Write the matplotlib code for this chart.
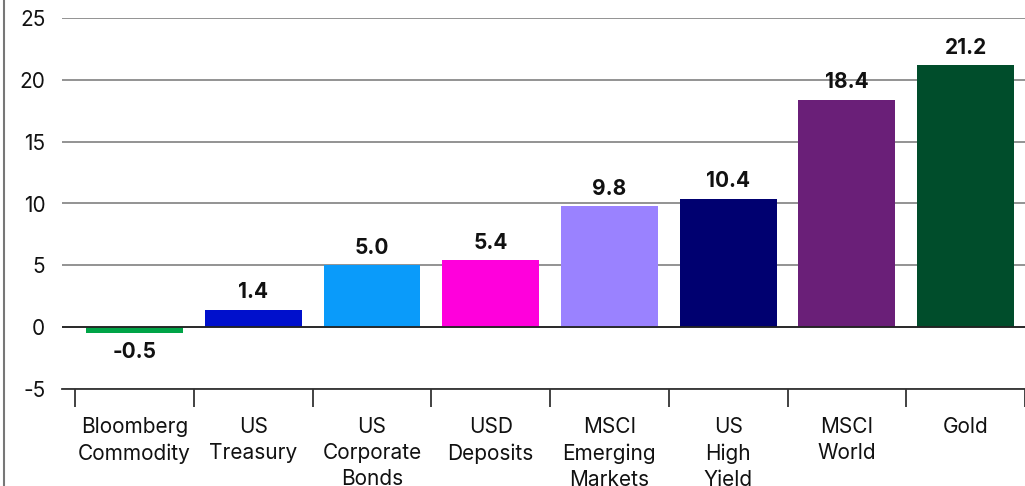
import numpy as np
import matplotlib.pyplot as plt
from matplotlib.lines import Line2D

plt.rcParams['font.family'] = ['Inter', 'DejaVu Sans']
plt.rcParams['axes.unicode_minus'] = False

categories = ['Bloomberg\nCommodity', 'US\nTreasury', 'US\nCorporate\nBonds', 'USD\nDeposits',
              'MSCI\nEmerging\nMarkets', 'US\nHigh\nYield', 'MSCI\nWorld', 'Gold']
values = [-0.5, 1.4, 5.0, 5.4, 9.8, 10.4, 18.4, 21.2]
colors = ['#00A447', '#0010CC', '#0A9BFA', '#FF00DC', '#9A82FF', '#000070', '#6A1F78', '#004D2B']

fig = plt.figure(figsize=(10.25, 4.86), dpi=100)
ax = fig.add_axes([62 / 1025, 1 - 389 / 486, 1 - 62 / 1025, (389 - 18) / 486])

x = np.arange(len(categories))
ax.bar(x, values, width=0.815, color=colors, zorder=3)

for xi, v in zip(x, values):
    if v >= 0:
        ax.text(xi, v + 0.6, f'{v:.1f}', ha='center', va='bottom', fontsize=15,
                fontweight='bold', color='#111111')
    else:
        ax.text(xi, v - 0.7, f'{v:.1f}', ha='center', va='top', fontsize=15,
                fontweight='bold', color='#111111')

ax.set_ylim(-5, 25)
ax.set_xlim(-0.61, 7.49)
ax.set_yticks(range(-5, 26, 5))
ax.grid(axis='y', color='#8a8a8a', linewidth=1.3, zorder=0)
ax.axhline(0, color='#222222', linewidth=1.3, zorder=4)

for s in ['top', 'right', 'left']:
    ax.spines[s].set_visible(False)
ax.spines['bottom'].set_color('#333333')
ax.spines['bottom'].set_linewidth(1.3)

ax.set_xticks(x)
ax.set_xticklabels(categories, fontsize=15, linespacing=1.38, color='#111111')
ax.tick_params(axis='x', length=0, pad=20)
ax.set_xticks(np.arange(-0.5, len(categories), 1), minor=True)
ax.tick_params(axis='x', which='minor', length=13, width=1.2, color='#222222')
ax.tick_params(axis='y', length=0, pad=12, labelsize=15, labelcolor='#111111')

fig.add_artist(Line2D([4 / 1025, 4 / 1025], [0, 1], color='#777777', linewidth=1.5))

fig.savefig('out.png', dpi=100)
